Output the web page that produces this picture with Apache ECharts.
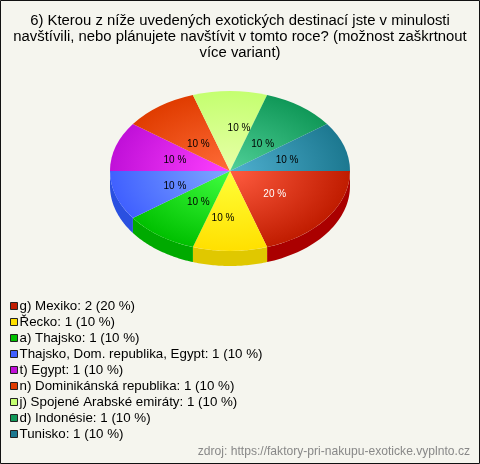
<!DOCTYPE html>
<html><head><meta charset="utf-8">
<style>html,body{margin:0;padding:0;background:#f5f5ee}#c{width:480px;height:464px}</style>
<script src="https://cdn.jsdelivr.net/npm/echarts@6/dist/echarts.min.js"></script>
</head><body><div id="c"></div>
<script>
var titleText = "6) Kterou z níže uvedených exotických destinací jste v minulosti\nnavštívili, nebo plánujete navštívit v tomto roce? (možnost zaškrtnout\nvíce variant)";
var sourceText = "zdroj: https://faktory-pri-nakupu-exoticke.vyplnto.cz";
var categories = ["g) Mexiko","Řecko","a) Thajsko","Thajsko, Dom. republika, Egypt","t) Egypt","n) Dominikánská republika","j) Spojené Arabské emiráty","d) Indonésie","Tunisko"];
var values = [2,1,1,1,1,1,1,1,1];
var centerColors = ["#ff5c40","#ffff38","#40ff40","#80a8ff","#ff40ff","#ff6c38","#e8ffa8","#50d098","#50b0d0"];
var edgeColors = ["#c01c00","#ffe000","#00c000","#4060ff","#c010d8","#e03c00","#c4ff70","#109858","#1c7890"];
var wallColors = ["#aa0000","#e0c800","#00aa00","#2a50e0","#a00cb0","#b83000","#a0d860","#0c7c48","#165f74"];
var labelColors = ["#fff","#000","#000","#000","#000","#000","#000","#000","#000"];
var labelNudge = [[-4,-6],[-8,-1],[2,-8],[0,-2],[0,0],[2,7],[8,-1],[-3,7],[0,0]];

var CX=230, CY=171, RX=120, RY=80, DEPTH=15;
var total = values.reduce(function(a,b){return a+b;},0);

function pct(v){return Math.round(v/total*100)+" %";}
function wallPoints(a,b){
  var s=Math.max(a,0), e=Math.min(b,Math.PI);
  if(e<=s) return null;
  var pts=[], n=40, i, t;
  for(i=0;i<=n;i++){t=s+(e-s)*i/n;pts.push([CX+RX*Math.cos(t),CY+RY*Math.sin(t)]);}
  for(i=n;i>=0;i--){t=s+(e-s)*i/n;pts.push([CX+RX*Math.cos(t),CY+DEPTH+RY*Math.sin(t)]);}
  return pts;
}
function makeRender(idx){
  return function(params,api){
    var v=api.value(0), before=api.value(1);
    var a=before/total*Math.PI*2, b=(before+v)/total*Math.PI*2, m=(a+b)/2;
    var children=[];
    var w=wallPoints(a,b);
    if(w) children.push({type:'polygon',shape:{points:w},style:{fill:wallColors[idx]},z2:0});
    children.push({type:'sector',x:CX,y:CY,scaleY:RY/RX,
      shape:{cx:0,cy:0,r0:0,r:RX,startAngle:a,endAngle:b,clockwise:true},
      style:{fill:{type:'radial',x:0,y:0,r:RX,global:true,colorStops:[{offset:0,color:centerColors[idx]},{offset:1,color:edgeColors[idx]}]}},z2:1});
    children.push({type:'text',
      x:CX+1+59*Math.cos(m)+labelNudge[idx][0],
      y:CY+3+45*Math.sin(m)+labelNudge[idx][1],
      style:{text:pct(v),fill:labelColors[idx],font:'10px "Liberation Sans",Arial,sans-serif',align:'center',verticalAlign:'middle'},z2:10});
    return {type:'group',children:children};
  };
}
var cum=0;
var series=categories.map(function(c,i){
  var s={type:'custom',name:c+": "+values[i]+" ("+pct(values[i])+")",coordinateSystem:'none',
    renderItem:makeRender(i),itemStyle:{color:edgeColors[i]},
    encode:{value:[0,1]},data:[[values[i],cum]],silent:true,animation:false};
  cum+=values[i];
  return s;
});
var chart=echarts.init(document.getElementById('c'),null,{renderer:'canvas'});
chart.setOption({
  animation:false,
  backgroundColor:'#f5f5ee',
  title:{text:titleText,left:235,top:8,textAlign:'center',
    textStyle:{fontFamily:'"Liberation Sans",Arial,sans-serif',fontSize:14.87,fontWeight:'normal',color:'#000',lineHeight:16}},
  legend:{orient:'vertical',left:10,top:299,itemWidth:7,itemHeight:7,itemGap:2,icon:'rect',selectedMode:false,padding:0,
    itemStyle:{borderColor:'#222',borderWidth:1},
    textStyle:{fontFamily:'"Liberation Sans",Arial,sans-serif',fontSize:13.33,color:'#000',lineHeight:14,padding:[0,0,0,-3]},
    data:series.map(function(s){return s.name;})},
  graphic:[
    {type:'rect',shape:{x:0.5,y:0.5,width:479,height:463},style:{fill:'none',stroke:'#111',lineWidth:1},z:100},
    {type:'text',right:10,top:446,style:{text:sourceText,fill:'#888',font:'12.1px "Liberation Sans",Arial,sans-serif'}}
  ],
  series:series
});
</script></body></html>
